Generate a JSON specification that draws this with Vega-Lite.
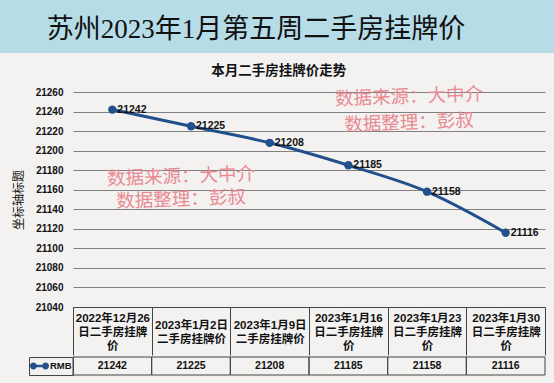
{
  "$schema": "https://vega.github.io/schema/vega-lite/v6.json",
  "background": "#f3f2f1",
  "padding": {"left": 0, "top": 0, "right": 0, "bottom": 10},
  "spacing": 10,
  "resolve": {"scale": {"color": "independent"}, "legend": {"color": "independent"}},
  "config": {
    "view": {"stroke": null},
    "font": "Liberation Sans, Noto Sans CJK SC",
    "numberFormat": "d"
  },
  "vconcat": [
    {
      "width": 554,
      "height": 53,
      "view": {"fill": "#b6dce8", "stroke": null},
      "data": {"values": [{"title": "苏州2023年1月第五周二手房挂牌价"}]},
      "mark": {"type": "text", "font": "Liberation Serif, Noto Sans CJK SC", "fontSize": 27, "color": "#111111", "dx": -21, "dy": 3, "baseline": "middle"},
      "encoding": {"text": {"field": "title"}}
    },
    {
      "spacing": 0,
      "resolve": {"scale": {"color": "independent"}, "legend": {"color": "independent"}},
      "hconcat": [
        {
          "width": 12,
          "height": 10,
          "data": {"values": []},
          "mark": {"type": "point", "opacity": 0},
          "encoding": {}
        },
        {
          "spacing": 0,
          "resolve": {"scale": {"color": "independent"}, "legend": {"color": "independent"}},
          "vconcat": [
            {
              "width": 472,
              "height": 215,
              "title": {"text": "本月二手房挂牌价走势", "font": "Noto Sans CJK SC", "fontSize": 13.5, "fontWeight": "bold", "color": "#111111", "anchor": "middle", "frame": "bounds", "offset": 8},
              "data": {"values": [
                {"week": "2022年12月26日二手房挂牌价", "price": 21242},
                {"week": "2023年1月2日二手房挂牌价", "price": 21225},
                {"week": "2023年1月9日二手房挂牌价", "price": 21208},
                {"week": "2023年1月16日二手房挂牌价", "price": 21185},
                {"week": "2023年1月23日二手房挂牌价", "price": 21158},
                {"week": "2023年1月30日二手房挂牌价", "price": 21116}
              ]},
              "encoding": {
                "x": {
                  "field": "week", "type": "nominal", "sort": null,
                  "scale": {"domain": ["2022年12月26日二手房挂牌价", "2023年1月2日二手房挂牌价", "2023年1月9日二手房挂牌价", "2023年1月16日二手房挂牌价", "2023年1月23日二手房挂牌价", "2023年1月30日二手房挂牌价"], "paddingInner": 0, "paddingOuter": 0},
                  "axis": {
                    "orient": "bottom", "title": null, "grid": false,
                    "domain": true, "domainColor": "#444444", "domainWidth": 1,
                    "ticks": true, "tickBand": "extent", "tickSize": 48, "tickColor": "#444444", "tickWidth": 1,
                    "labelExpr": "length(datum.label) == 15 ? [slice(datum.label, 0, 9), slice(datum.label, 9)] : [slice(datum.label, 0, length(datum.label) - 7), slice(datum.label, length(datum.label) - 7, length(datum.label) - 1), slice(datum.label, length(datum.label) - 1)]",
                    "labelFont": "Liberation Sans, Noto Sans CJK SC", "labelFontSize": 11.5, "labelFontWeight": "bold", "labelColor": "#111111",
                    "labelLineHeight": 14, "labelBaseline": "middle",
                    "labelPadding": {"condition": {"test": "length(datum.label) == 15", "value": -30}, "value": -37},
                    "labelAngle": 0, "labelOverlap": false, "labelBound": false, "labelLimit": 0
                  }
                },
                "y": {
                  "field": "price", "type": "quantitative",
                  "scale": {"domain": [21040, 21260], "nice": false, "zero": false},
                  "axis": {
                    "title": "坐标轴标题", "titleFont": "Noto Sans CJK SC", "titleFontSize": 12, "titleFontWeight": "normal", "titleColor": "#111111", "titlePadding": 8,
                    "values": [21040, 21060, 21080, 21100, 21120, 21140, 21160, 21180, 21200, 21220, 21240, 21260],
                    "format": "d", "labelFont": "Liberation Sans", "labelFontSize": 10, "labelFontWeight": "bold", "labelColor": "#111111", "labelPadding": 10,
                    "ticks": false, "domain": false, "grid": true, "gridColor": "#808080", "gridWidth": 1,
                    "minExtent": 40, "maxExtent": 40
                  }
                }
              },
              "layer": [
                {"mark": {"type": "line", "color": "#21508c", "strokeWidth": 3, "interpolate": "monotone"}},
                {"mark": {"type": "point", "filled": true, "size": 70, "color": "#21508c", "opacity": 1}},
                {"mark": {"type": "text", "align": "left", "baseline": "middle", "dx": 5, "font": "Liberation Sans", "fontSize": 10.5, "fontWeight": "bold", "color": "#111111"}, "encoding": {"text": {"field": "price", "type": "quantitative", "format": "d"}}},
                {
                  "data": {"values": [
                    {"note": "数据来源：大中介", "week": "2023年1月2日二手房挂牌价", "price": 21174},
                    {"note": "数据整理：彭叔", "week": "2023年1月2日二手房挂牌价", "price": 21150.5}
                  ]},
                  "mark": {"type": "text", "font": "Noto Sans CJK SC", "fontSize": 18.5, "color": "#e98a92", "angle": -2, "dx": -10, "baseline": "middle"},
                  "encoding": {"text": {"field": "note"}}
                },
                {
                  "data": {"values": [
                    {"note": "数据来源：大中介", "week": "2023年1月23日二手房挂牌价", "price": 21255.9},
                    {"note": "数据整理：彭叔", "week": "2023年1月23日二手房挂牌价", "price": 21229.3}
                  ]},
                  "mark": {"type": "text", "font": "Noto Sans CJK SC", "fontSize": 18.5, "color": "#e98a92", "angle": -2, "dx": -18, "baseline": "middle"},
                  "encoding": {"text": {"field": "note"}}
                }
              ]
            },
            {
              "width": 472,
              "height": 18,
              "data": {"values": [
                {"week": "2022年12月26日二手房挂牌价", "price": 21242, "series": "RMB"},
                {"week": "2023年1月2日二手房挂牌价", "price": 21225, "series": "RMB"},
                {"week": "2023年1月9日二手房挂牌价", "price": 21208, "series": "RMB"},
                {"week": "2023年1月16日二手房挂牌价", "price": 21185, "series": "RMB"},
                {"week": "2023年1月23日二手房挂牌价", "price": 21158, "series": "RMB"},
                {"week": "2023年1月30日二手房挂牌价", "price": 21116, "series": "RMB"}
              ]},
              "encoding": {
                "x": {
                  "field": "week", "type": "nominal", "sort": null,
                  "scale": {"domain": ["2022年12月26日二手房挂牌价", "2023年1月2日二手房挂牌价", "2023年1月9日二手房挂牌价", "2023年1月16日二手房挂牌价", "2023年1月23日二手房挂牌价", "2023年1月30日二手房挂牌价"], "paddingInner": 0, "paddingOuter": 0},
                  "axis": null
                }
              },
              "layer": [
                {"mark": {"type": "rect", "fill": "transparent", "stroke": "#444444", "strokeWidth": 1}},
                {"mark": {"type": "text", "font": "Liberation Sans", "fontSize": 10.5, "fontWeight": "bold", "color": "#111111", "baseline": "middle"}, "encoding": {"text": {"field": "price", "type": "quantitative", "format": "d"}}},
                {
                  "mark": {"type": "point", "filled": true, "size": 1, "opacity": 0},
                  "encoding": {
                    "color": {
                      "field": "series", "type": "nominal",
                      "scale": {"range": ["#21508c"]},
                      "legend": {
                        "orient": "left", "offset": 0, "title": null,
                        "symbolType": "M-1,0 A0.36,0.36 0 1,1 -0.28,0 A0.36,0.36 0 1,1 -1,0 Z M0.28,0 A0.36,0.36 0 1,1 1,0 A0.36,0.36 0 1,1 0.28,0 Z M-0.64,-0.14 L0.64,-0.14 L0.64,0.14 L-0.64,0.14 Z",
                        "symbolSize": 361, "symbolFillColor": "#21508c", "symbolStrokeWidth": 0, "symbolOpacity": 1,
                        "labelFont": "Liberation Sans", "labelFontSize": 9.5, "labelFontWeight": "bold", "labelColor": "#111111", "labelOffset": 1,
                        "padding": 1, "strokeColor": "#444444", "clipHeight": 16, "rowPadding": 0
                      }
                    }
                  }
                }
              ]
            }
          ]
        }
      ]
    }
  ]
}
